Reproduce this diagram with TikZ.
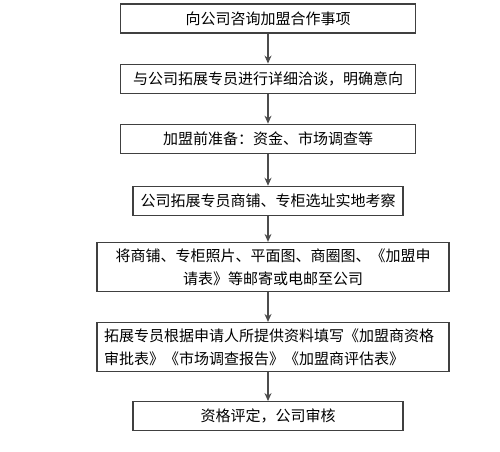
\documentclass[tikz,border=0pt]{standalone}
\usepackage{fontspec}
\newfontfamily\cjk{Noto Sans CJK SC}
\usetikzlibrary{positioning, arrows.meta}

\begin{document}
\begin{tikzpicture}[
    x=1pt, y=-1pt,
    node distance=30pt,
    stepbox/.style={draw=black!75, line width=1.1pt, minimum height=29pt, inner sep=6pt,
        align=center, font=\cjk\fontsize{15}{23}\selectfont, text=black},
    shortbox/.style={stepbox, minimum width=270pt},
    longbox/.style={stepbox, minimum width=295pt},
    widebox/.style={stepbox, minimum width=352pt, text width=338pt},
    arrow/.style={-{Stealth[length=8pt, width=7pt]}, line width=1.1pt, draw=black!70}
]
\useasboundingbox (0,0) rectangle (500,451);

\node[longbox] (b1) at (268,18.5) {向公司咨询加盟合作事项};
\node[longbox, below=of b1] (b2) {与公司拓展专员进行详细洽谈，明确意向};
\node[longbox, below=of b2] (b3) {加盟前准备：资金、市场调查等};
\node[shortbox, below=32pt of b3] (b4) {公司拓展专员商铺、专柜选址实地考察};
\node[widebox, below=26pt of b4, xshift=5pt] (b5) {将商铺、专柜照片、平面图、商圈图、《加盟申\\请表》等邮寄或电邮至公司};
\node[widebox, below=of b5, align=left] (b6) {拓展专员根据申请人所提供资料填写《加盟商资格\\审批表》《市场调查报告》《加盟商评估表》};
\node[shortbox, below=29pt of b6, xshift=-5pt] (b7) {资格评定，公司审核};

\draw[arrow] (b1) -- (b2);
\draw[arrow] (b2) -- (b3);
\draw[arrow] (b3) -- (b4);
\draw[arrow] (b4) -- (b4 |- b5.north);
\draw[arrow] (b5.south -| b4) -- (b4 |- b6.north);
\draw[arrow] (b6.south -| b7) -- (b7);
\end{tikzpicture}
\end{document}
